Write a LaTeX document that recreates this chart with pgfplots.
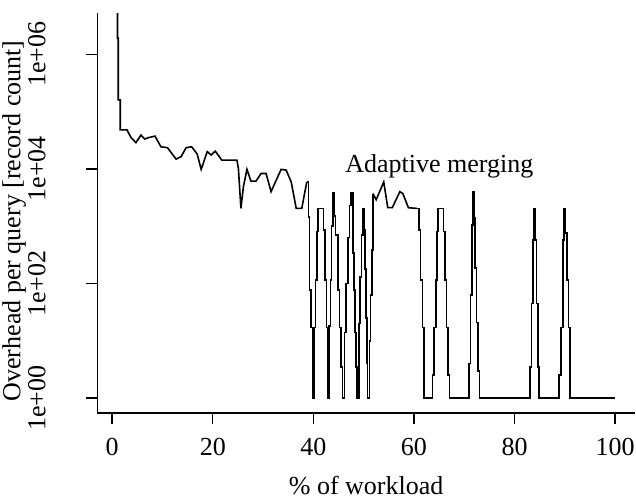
\documentclass[border=0pt]{standalone}
\usepackage{fontspec}
\setmainfont{Liberation Serif}
\usepackage{pgfplots}
\pgfplotsset{compat=1.18}
\newcommand{\lblfont}{\fontsize{13}{15.6}\selectfont}
\begin{document}
\lblfont
\begin{tikzpicture}
\begin{axis}[
  name=ax,
  scale only axis,
  width=268.9pt, height=200pt,
  ymode=log,
  xmin=-2.96, xmax=103.96,
  ymin=0.55, ymax=5.25e6,
  axis x line*=bottom, axis y line*=left,
  axis line style={line width=0.7pt},
  tick align=outside, major tick length=5.5pt,
  tick style={line width=0.7pt, black},
  xtick={0,20,40,60,80,100},
  ytick={1,100,10000,1000000},
  yticklabels={1e+00,1e+02,1e+04,1e+06},
  yminorticks=false,
  /pgf/number format/assume math mode=true,
  tick label style={font=\lblfont},
  xticklabel style={anchor=north, inner sep=0pt},
  xticklabel shift=7pt,
  yticklabel style={rotate=90, anchor=base, inner sep=0pt},
  yticklabel shift=20.5pt,
  xlabel={\% of workload},
  ylabel={Overhead per query [record count]},
  label style={font=\lblfont},
  xlabel style={at={([yshift=-31.5pt]axis description cs:0.5,0)}, anchor=north, inner sep=0pt},
  ylabel style={at={([xshift=-38.5pt]axis description cs:0,0.48)}, anchor=base, inner sep=0pt},
]
% start-up phase
\addplot[black, line width=0.8pt, no markers] coordinates {
  (1.05,5.2e6) (1.05,1.9e6) (1.2,1.9e6) (1.2,1.6e5) (1.6,1.6e5) (1.6,48000)
  (2.93,48000) (3.72,35500) (4.72,28700) (5.72,38900) (6.51,33100) (7.17,35000)
  (8.51,37300) (9.70,24300) (11.0,23400) (12.7,14800) (13.7,16300) (14.7,23400)
  (15.8,24300) (16.9,18200) (17.7,9800) (18.9,20000) (19.7,17400) (20.5,20400)
  (21.8,14200) (24.8,14200) (25.1,10200) (25.6,2040) (26.1,4900) (26.8,9800)
  (27.6,6100) (28.6,6100) (29.6,8300) (30.6,8300) (31.6,4000) (32.6,6300)
  (33.6,9800) (34.6,9500) (35.6,5900) (36.6,2040) (37.7,2040) (38.2,3500)
  (38.7,5900)
};
% first group of spikes
\addplot[black, line width=0.8pt, no markers, const plot] coordinates {
  (38.7,5900) (39.0,1450) (39.2,76) (39.5,17) (39.8,1)
  (40.1,17) (40.4,115) (40.7,810) (40.9,2040) (42.0,850) (42.35,115) (42.6,17) (42.9,1)
  (43.1,18) (43.4,115) (43.6,1000) (43.9,3800) (44.1,1500) (44.4,700) (44.85,76)
  (45.2,17) (45.5,3.5) (45.8,1)
  (46.2,14) (46.55,100) (46.9,630) (47.2,2300) (47.5,3800) (47.9,340) (48.1,76)
  (48.3,14) (48.5,3.5) (48.7,1)
  (49.1,20) (49.3,130) (49.6,700) (49.9,2040) (50.1,850) (50.3,180) (50.5,25)
  (50.7,4) (50.8,1)
  (51.2,10) (51.4,63) (51.65,380) (51.85,3700)
};
\addplot[black, line width=0.8pt, no markers] coordinates {
  (51.85,3700) (52.5,2900) (54.0,5900) (54.8,2100) (55.7,2100) (57.2,4000)
  (57.8,3700) (58.9,2100) (60.6,2040)
};
% late spikes
\addplot[black, line width=0.8pt, no markers, const plot] coordinates {
  (60.6,2040) (61.0,850) (61.3,115) (61.7,17) (62.0,1)
  (63.7,2.5) (64.0,17) (64.35,115) (64.6,810) (64.8,2040) (65.85,810) (66.15,115)
  (66.5,17) (66.8,2.5) (67.1,1)
  (71.0,4) (71.25,63) (71.6,1050) (71.8,4000) (71.9,1380) (72.1,185) (72.45,21)
  (72.8,3) (73.0,1)
  (83.1,3.5) (83.4,45) (83.7,570) (83.9,2040) (84.1,570) (84.4,45) (84.7,3.5) (84.9,1)
  (88.9,2.5) (89.2,17) (89.6,570) (89.8,2040) (90.0,760) (90.4,115) (90.7,17) (91.0,1)
  (100,1)
};
\node[anchor=base west, inner sep=0pt, font=\lblfont] at (axis cs:46.3,8500) {Adaptive merging};
\end{axis}
\pgfresetboundingbox
\path[use as bounding box] ([shift={(-48.65pt,-42.85pt)}]ax.south west) rectangle ([shift={(0.5pt,6.5pt)}]ax.north east);
\end{tikzpicture}
\end{document}
